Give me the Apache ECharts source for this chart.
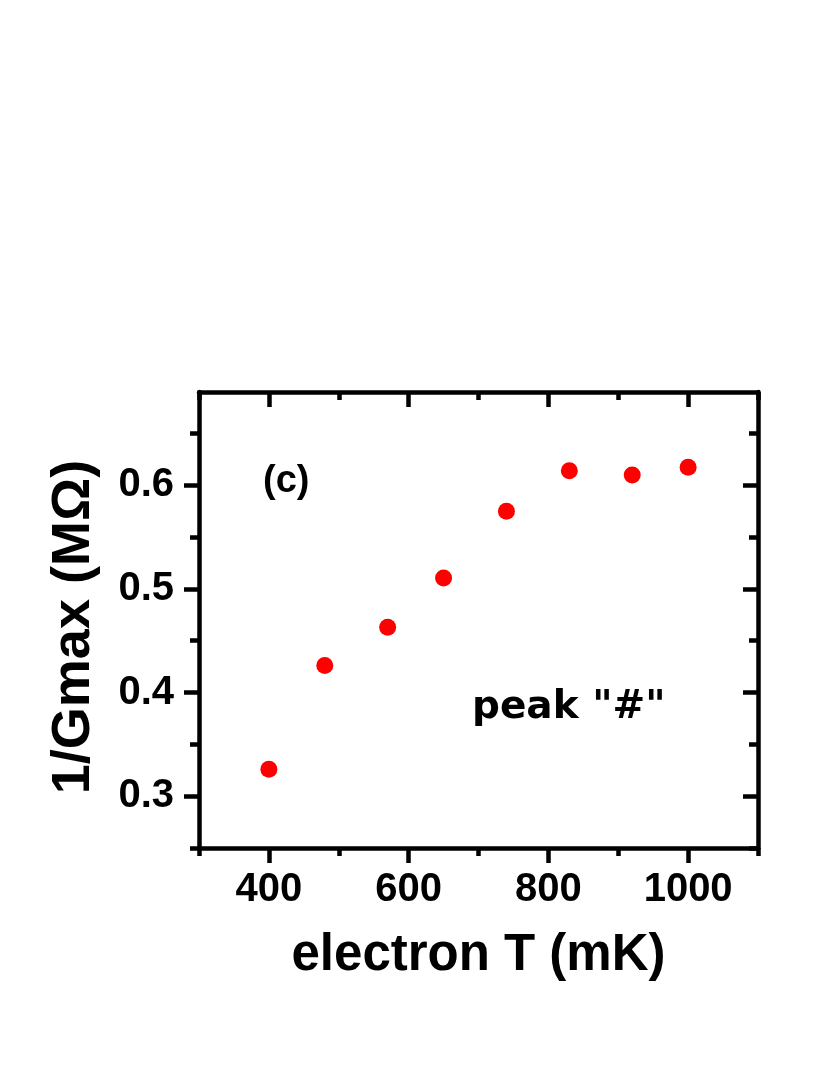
<!DOCTYPE html>
<html>
<head>
<meta charset="utf-8">
<script src="https://cdn.jsdelivr.net/npm/echarts@6/dist/echarts.min.js"></script>
<style>
  html, body { margin: 0; padding: 0; background: #fff; }
  #chart { width: 830px; height: 1075px; }
</style>
</head>
<body>
<div id="chart"></div>
<script>
// data
const electronT = [400, 480, 570, 650, 740, 830, 920, 1000] // mK
const invGmax = [0.326, 0.426, 0.463, 0.5105, 0.575, 0.614, 0.610, 0.6175] // MOhm

// ticks
const xMajor = [400, 600, 800, 1000]
const xMinor = [300, 500, 700, 900, 1100]
const yMajor = [0.3, 0.4, 0.5, 0.6]
const yMinor = [0.25, 0.35, 0.45, 0.55, 0.65]
const xRange = [300, 1100]
const yRange = [0.25, 0.69]

const FONT = '"Liberation Sans", Arial, sans-serif'
const BLACK = '#000'
const LW = 4.5

function xAx(pos, ticks, len, inside, opts) {
    return Object.assign({
        type: 'value', position: pos, min: xRange[0], max: xRange[1],
        splitLine: { show: false },
        axisLine: { show: false },
        axisTick: { show: true, inside: inside, length: len, customValues: ticks,
            lineStyle: { color: BLACK, width: LW } },
        axisLabel: { show: false },
    }, opts || {})
}
function yAx(pos, ticks, len, inside, opts) {
    return Object.assign({
        type: 'value', position: pos, min: yRange[0], max: yRange[1],
        splitLine: { show: false },
        axisLine: { show: false },
        axisTick: { show: true, inside: inside, length: len, customValues: ticks,
            lineStyle: { color: BLACK, width: LW } },
        axisLabel: { show: false },
    }, opts || {})
}

const myChart = echarts.init(document.getElementById('chart'))
const option = {
    backgroundColor: '#fff',
    animation: false,
    grid: { left: 199, right: 72, top: 392, bottom: 227 },
    xAxis: [
        xAx('bottom', xMajor, 15, false, {
            axisLine: { show: true, onZero: false, lineStyle: { color: BLACK, width: LW } },
            axisLabel: { show: true, customValues: xMajor, margin: 22, formatter: v => String(v),
                fontFamily: FONT, fontWeight: 'bold', fontSize: 40, color: BLACK },
            name: 'electron T (mK)', nameLocation: 'middle', nameGap: 82,
            nameTextStyle: { fontFamily: FONT, fontWeight: 'bold', fontSize: 51, color: BLACK },
        }),
        xAx('bottom', xMinor, 8, false),
        xAx('top', xMajor, 15, true, {
            axisLine: { show: true, onZero: false, lineStyle: { color: BLACK, width: LW } },
        }),
        xAx('top', xMinor, 8, true),
    ],
    yAxis: [
        yAx('left', yMajor, 15, false, {
            axisLine: { show: true, onZero: false, lineStyle: { color: BLACK, width: LW } },
            axisLabel: { show: true, customValues: yMajor, margin: 25,
                fontFamily: FONT, fontWeight: 'bold', fontSize: 40, color: BLACK },
            name: '1/Gmax (MΩ)', nameLocation: 'middle', nameGap: 98,
            nameTextStyle: { fontFamily: FONT, fontWeight: 'bold', fontSize: 54, color: BLACK,
                padding: [0, 14, 0, 0] },
        }),
        yAx('left', yMinor, 9, false),
        yAx('right', yMajor, 15, true, {
            axisLine: { show: true, onZero: false, lineStyle: { color: BLACK, width: LW } },
        }),
        yAx('right', yMinor, 9, true),
    ],
    series: [{
        type: 'scatter',
        xAxisIndex: 0,
        yAxisIndex: 0,
        symbol: 'circle',
        symbolSize: 17,
        itemStyle: { color: '#ff0000', opacity: 1 },
        data: electronT.map((t, i) => [t, invGmax[i]]),
    }],
    graphic: [
        { type: 'text', left: 263, top: 463,
          style: { text: '(c)', fontFamily: FONT, fontWeight: 'bold', fontSize: 38, fill: BLACK } },
        { type: 'text', left: 472, top: 688,
          style: { text: 'peak "#"', fontFamily: '"DejaVu Sans", sans-serif', fontWeight: 'bold', fontSize: 39, fill: BLACK } },
    ],
}
myChart.setOption(option)
</script>
</body>
</html>
